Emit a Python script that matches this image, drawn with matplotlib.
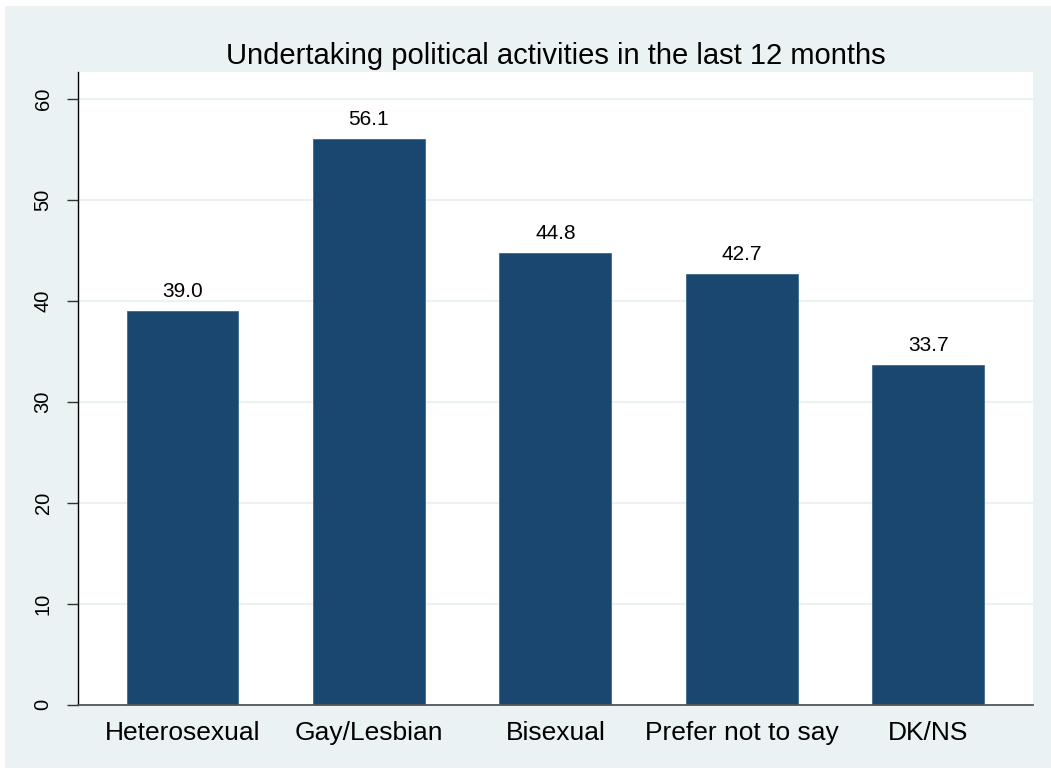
import matplotlib.pyplot as plt
from matplotlib.patches import Rectangle

plt.rcParams['font.family'] = ['Liberation Sans', 'DejaVu Sans']

categories = ['Heterosexual', 'Gay/Lesbian', 'Bisexual', 'Prefer not to say', 'DK/NS']
values = [39.0, 56.1, 44.8, 42.7, 33.7]
yticks = [0, 10, 20, 30, 40, 50, 60]

bg = '#EAF2F3'
navy = '#1A476F'

fig = plt.figure(figsize=(10.51, 7.71), dpi=100)
fig.patch.set_facecolor('white')
fig.patches.append(Rectangle((5 / 1051, 3 / 771), 1 - 5 / 1051, 1 - 9 / 771,
                             transform=fig.transFigure, facecolor=bg,
                             edgecolor='none', zorder=-10))

ax = fig.add_axes([77.7 / 1051, 66.3 / 771, (1033 - 77.7) / 1051, (704.7 - 72) / 771])
ax.set_facecolor('white')

x = list(range(len(categories)))
bars = ax.bar(x, values, width=0.6, color=navy, edgecolor='#3D6A8F', linewidth=0.6, zorder=3)

for xi, v in zip(x, values):
    ax.annotate(f'{v:.1f}', (xi, v), xytext=(0, 14), textcoords='offset points',
                ha='center', va='center', fontsize=15, color='black')

ax.set_xlim(-0.562, 4.562)
ax.set_ylim(0, 62.7)
ax.set_yticks(yticks)
ax.set_yticklabels([str(t) for t in yticks], rotation=90, va='center', fontsize=14.5)
ax.set_xticks(x)
ax.set_xticklabels(categories, fontsize=19)
ax.tick_params(axis='x', length=0, pad=12)
ax.tick_params(axis='y', length=8, width=1, color='#333333', pad=10)

ax.grid(axis='y', color=bg, linewidth=1.5, zorder=0)
ax.spines['top'].set_visible(False)
ax.spines['right'].set_visible(False)
ax.spines['left'].set_color('black')
ax.spines['left'].set_linewidth(1)
ax.spines['bottom'].set_color('#555555')
ax.spines['bottom'].set_linewidth(1.3)
ax.spines['bottom'].set_zorder(4)

ax.set_title('Undertaking political activities in the last 12 months', fontsize=21, pad=6)

fig.savefig('out.png', dpi=100, facecolor=fig.get_facecolor())
